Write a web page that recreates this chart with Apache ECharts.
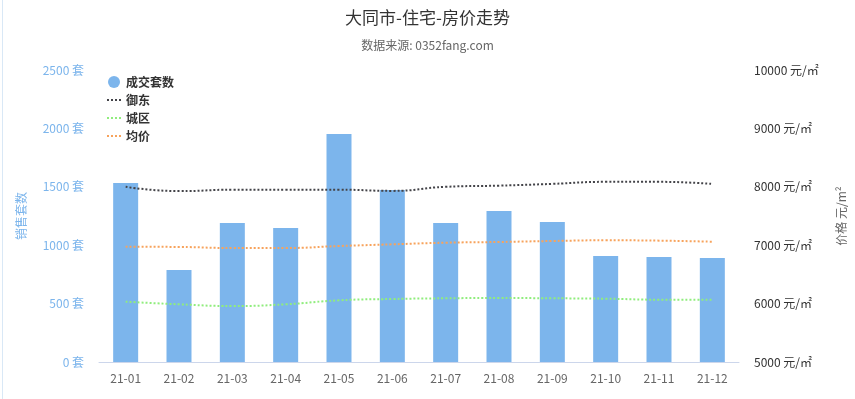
<!DOCTYPE html>
<html>
<head>
<meta charset="utf-8">
<script src="https://cdn.jsdelivr.net/npm/echarts@6/dist/echarts.min.js"></script>
<style>
  html, body { margin: 0; padding: 0; background: #fff; }
  #main { width: 855px; height: 399px; position: relative; }
  #edge { position: absolute; left: 2px; top: 0; width: 1px; height: 399px; background: #d9e8f6; }
</style>
</head>
<body>
<div id="edge"></div>
<div id="main"></div>
<script>
const months = ['21-01', '21-02', '21-03', '21-04', '21-05', '21-06', '21-07', '21-08', '21-09', '21-10', '21-11', '21-12'];
const deals = [1532, 788, 1190, 1147, 1952, 1473, 1190, 1293, 1199, 908, 899, 890];
const yudong = [8000, 7926, 7950, 7950, 7950, 7930, 8000, 8020, 8050, 8085, 8085, 8050];
const chengqu = [6033, 5988, 5959, 5988, 6056, 6079, 6091, 6096, 6091, 6084, 6067, 6067];
const avgPrice = [6974, 6970, 6952, 6952, 6986, 7015, 7043, 7055, 7072, 7084, 7078, 7060];

const font = '"Noto Sans CJK SC", "Noto Sans", sans-serif';

function dotted(name, color, data) {
  return {
    name: name,
    type: 'line',
    yAxisIndex: 1,
    smooth: true,
    symbol: 'none',
    data: data,
    lineStyle: { color: color, width: 2, type: [2, 2] },
    itemStyle: { color: color }
  };
}

function lineLegend(name) {
  // dotted stroke only, no marker
  return { name: name, icon: 'inherit', itemStyle: { opacity: 0 } };
}

let chart = echarts.init(document.querySelector('#main'));

let option = {
  textStyle: { fontFamily: font },
  animation: false,
  title: {
    text: '大同市-住宅-房价走势',
    subtext: '数据来源: 0352fang.com',
    left: 'center',
    top: 4,
    itemGap: 13,
    textStyle: { color: '#333333', fontSize: 17, fontWeight: 'normal', fontFamily: font },
    subtextStyle: { color: '#666666', fontSize: 12, fontFamily: font }
  },
  legend: {
    orient: 'vertical',
    left: 101,
    top: 71,
    itemGap: 6,
    itemWidth: 14,
    itemHeight: 12,
    textStyle: { color: '#333333', fontSize: 12, fontWeight: 'bold', fontFamily: font },
    data: [
      { name: '成交套数', icon: 'circle' },
      lineLegend('御东'), lineLegend('城区'), lineLegend('均价')
    ]
  },
  grid: { left: 99, right: 116, top: 70, bottom: 37 },
  xAxis: {
    type: 'category',
    data: months,
    axisLine: { lineStyle: { color: '#ccd6eb' } },
    axisTick: { show: false },
    axisLabel: { color: '#666666', fontSize: 12, margin: 10 }
  },
  yAxis: [
    {
      type: 'value',
      min: 0,
      max: 2500,
      interval: 500,
      name: '销售套数',
      nameLocation: 'middle',
      nameGap: 72,
      nameTextStyle: { color: '#7cb5ec', fontSize: 12 },
      splitLine: { show: false },
      axisLine: { show: false },
      axisTick: { show: false },
      axisLabel: { color: '#7cb5ec', fontSize: 12, margin: 15, formatter: v => v + ' 套' }
    },
    {
      type: 'value',
      min: 5000,
      max: 10000,
      interval: 1000,
      name: '价格 元/m²',
      nameLocation: 'middle',
      nameGap: 96,
      nameTextStyle: { color: '#666666', fontSize: 12 },
      splitLine: { show: false },
      axisLine: { show: false },
      axisTick: { show: false },
      axisLabel: { color: '#333333', fontSize: 12, margin: 15, formatter: v => v + ' 元/㎡' }
    }
  ],
  series: [
    {
      name: '成交套数',
      type: 'bar',
      barWidth: 25,
      data: deals,
      itemStyle: { color: '#7cb5ec' }
    },
    dotted('御东', '#434348', yudong),
    dotted('城区', '#90ed7d', chengqu),
    dotted('均价', '#f7a35c', avgPrice)
  ]
};

chart.setOption(option);
</script>
</body>
</html>
